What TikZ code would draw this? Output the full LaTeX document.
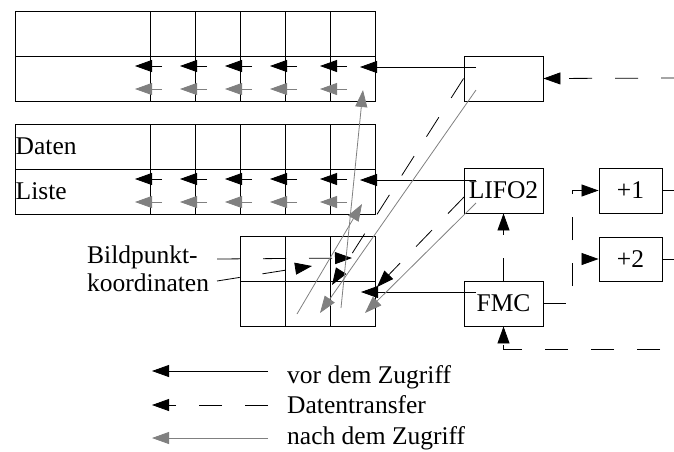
\documentclass[tikz,border=0pt]{standalone}
\usepackage{fontspec}
\setmainfont{Liberation Serif}
\usetikzlibrary{arrows.meta}

\begin{document}
\begin{tikzpicture}[x=1pt,y=-1pt,
  every node/.style={font=\fontsize{25.5}{30}\selectfont},
  box/.style={draw,line width=0.9pt,minimum width=79pt,minimum height=45pt,inner sep=0pt},
  cell/.style={line width=0.9pt},
  before/.style={-{Triangle[length=17pt,width=12pt]},line width=0.8pt},
  transfer/.style={before,dash pattern=on 23pt off 23pt},
  after/.style={before,color=gray}]
  \useasboundingbox (0,0) rectangle (674,451);
  % registers
  \foreach \y in {11,124}{
    \draw[cell] (15,\y) rectangle (375,\y+90);
    \draw[cell] (15,\y+45) -- (375,\y+45);
    \foreach \x in {150,195,...,330}
      \draw[cell] (\x,\y) -- (\x,\y+90);
    \foreach \t in {135,180,225,270,320}{
      \draw[before] (\t+27,\y+55) -- (\t,\y+55);
      \draw[after] (\t+27,\y+78) -- (\t,\y+78);
    }
  }
  \node[anchor=base west,inner sep=0pt] (daten) at (15.5,154) {Daten};
  \node[anchor=base west,inner sep=0pt] (liste) at (15.5,199) {Liste};
  % Bildpunkt grid
  \draw[cell] (240,236) rectangle (375,326);
  \draw[cell] (240,281) -- (375,281);
  \draw[cell] (285,236) -- (285,326);
  \draw[cell] (330,236) -- (330,326);
  \node[anchor=base west,inner sep=0pt] (bild) at (87,263) {Bildpunkt-};
  \node[anchor=base west,inner sep=0pt] (koord) at (87,291) {koordinaten};
  % boxes
  \node[box] (buf) at (503.5,78.5) {};
  \node[box] (lifo) at (503.5,190.5) {LIFO2};
  \node[box] (fmc) at (503.5,303.5) {FMC};
  \node[box,minimum width=63pt] (inc1) at (630.5,190.5) {+1};
  \node[box,minimum width=63pt,minimum height=44pt] (inc2) at (630.5,259) {+2};
  % connector ends
  \coordinate (bufA) at (476,67);
  \coordinate (bufC) at (476,90);
  \coordinate (lifoA) at (476,180);
  \coordinate (lifoB) at (464,197);
  \coordinate (lifoC) at (476,203);
  \coordinate (fmcA) at (476,292);
  \coordinate (r1) at (360,67);
  \coordinate (r2) at (360,180);
  \coordinate (up1) at (363,90);
  \coordinate (up2) at (362,204);
  \coordinate (lo1) at (341,308);
  \coordinate (lo2) at (297,314);
  \coordinate (dn1) at (332,285);
  \coordinate (dn2) at (377,287);
  \coordinate (gd1) at (320,313);
  \coordinate (gd2) at (365,313);
  \coordinate (px) at (361,292);
  \coordinate (bpA) at (217,259);
  \coordinate (bpB) at (217,281);
  \coordinate (bpA2) at (352,258);
  \coordinate (bpB2) at (312,266);
  \coordinate (jn) at (572,259);
  \coordinate (inA) at (684,78);
  \coordinate (inB) at (683,349);
  \coordinate (out1) at (684,190.5);
  \coordinate (out2) at (684,259);
  % before access
  \draw[before] (bufA) -- (r1);
  \draw[before] (lifoA) -- (r2);
  \draw[before] (fmcA) -- (px);
  % data transfer
  \draw[transfer] (buf.west) -- (dn1);
  \draw[transfer] (lifoB) -- (dn2);
  \draw[transfer] (bpA) -- (bpA2);
  \draw[transfer] (bpB) -- (bpB2);
  \draw[transfer] (inA) -- (buf.east);
  \draw[transfer,dash phase=23pt] (inB) -| (fmc.south);
  \draw[transfer] (fmc.north) -- (lifo.south);
  \draw[transfer] (fmc.east) -| (jn) |- (inc1.west);
  \draw[transfer,dash phase=23pt] (jn) -- (inc2.west);
  \draw[line width=0.8pt,dash pattern=on 23pt off 23pt] (inc1.east) -- (out1);
  \draw[line width=0.8pt,dash pattern=on 23pt off 23pt] (inc2.east) -- (out2);
  % after access
  \draw[after] (lo1) -- (up1);
  \draw[after] (lo2) -- (up2);
  \draw[after] (bufC) -- (gd1);
  \draw[after] (lifoC) -- (gd2);
  % legend
  \coordinate (k1) at (268,371);
  \coordinate (k2) at (268,405);
  \coordinate (k3) at (268,438);
  \coordinate (t1) at (152,371);
  \coordinate (t2) at (152,405);
  \coordinate (t3) at (152,438);
  \draw[before] (k1) -- (t1);
  \draw[transfer] (k2) -- (t2);
  \draw[after] (k3) -- (t3);
  \node[anchor=base west,inner sep=0pt] (vor) at (287,383) {vor dem Zugriff};
  \node[anchor=base west,inner sep=0pt] (dat) at (287,413) {Datentransfer};
  \node[anchor=base west,inner sep=0pt] (nach) at (287,444) {nach dem Zugriff};
\end{tikzpicture}
\end{document}
